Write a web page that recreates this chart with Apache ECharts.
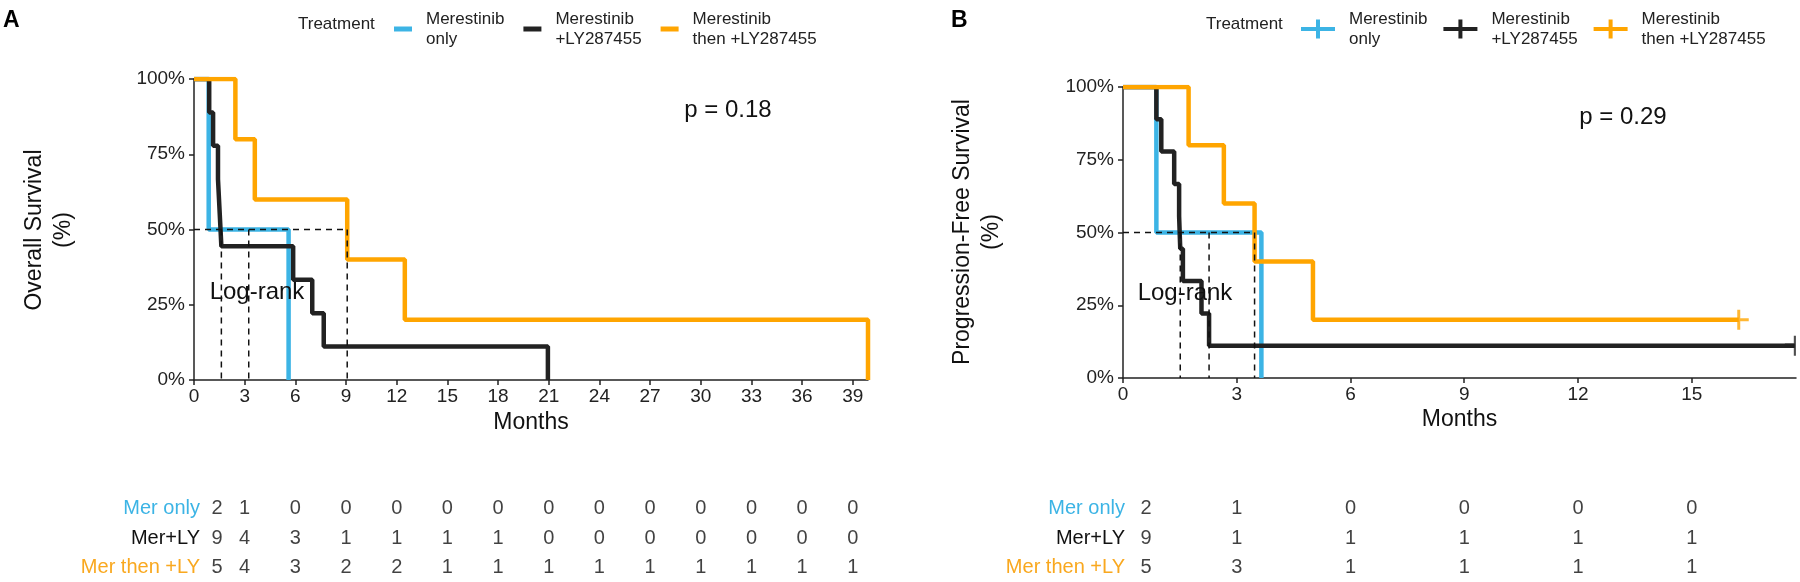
<!DOCTYPE html>
<html style="height: 100%">

<head>
    <meta charset="utf-8">
</head>

<body style="height: 100%; margin: 0">
    <div id="main" style="width: 1800px; height: 582px"></div>

    <script type="text/javascript" src="https://cdn.jsdelivr.net/npm/echarts@6/dist/echarts.min.js"></script>

    <script type="text/javascript">
        // Panel A - overall survival, [month, survival %] at each step
        var osMerOnly = [[0, 100], [0.87, 50], [5.6, 0]];
        var osMerLY = [[0, 100], [0.9, 88.9], [1.13, 77.8], [1.42, 66.7], [1.52, 55.6], [1.62, 44.4],
            [5.87, 33.3], [7.0, 22.2], [7.68, 11.1], [20.95, 0]];
        var osMerThenLY = [[0, 100], [2.45, 80], [3.6, 60], [9.07, 40], [12.48, 20], [39.9, 0]];
        var osMedians = [1.62, 3.24, 9.07];

        // Panel B - progression-free survival
        var pfsMerOnly = [[0, 100], [0.88, 50], [3.65, 0]];
        var pfsMerLY = [[0, 100], [0.88, 88.9], [1.01, 77.8], [1.35, 66.7], [1.48, 55.6], [1.51, 44.4],
            [1.58, 33.3], [2.07, 22.2], [2.27, 11.1], [17.72, 11.1]];
        var pfsMerThenLY = [[0, 100], [1.73, 80], [2.66, 60], [3.47, 40], [5.01, 20], [16.24, 20]];
        var pfsCensorMerLY = [[17.72, 11.1]];
        var pfsCensorMerThenLY = [[16.24, 20]];
        var pfsMedians = [1.51, 2.27, 3.47];

        // numbers at risk
        var riskRows = ['Mer only', 'Mer+LY', 'Mer then +LY'];
        var riskTimesA = [0, 3, 6, 9, 12, 15, 18, 21, 24, 27, 30, 33, 36, 39];
        var riskA = [
            [2, 1, 0, 0, 0, 0, 0, 0, 0, 0, 0, 0, 0, 0],
            [9, 4, 3, 1, 1, 1, 1, 0, 0, 0, 0, 0, 0, 0],
            [5, 4, 3, 2, 2, 1, 1, 1, 1, 1, 1, 1, 1, 1]
        ];
        var riskTimesB = [0, 3, 6, 9, 12, 15];
        var riskB = [
            [2, 1, 0, 0, 0, 0],
            [9, 1, 1, 1, 1, 1],
            [5, 3, 1, 1, 1, 1]
        ];

        var groupNames = ['Merestinib\nonly', 'Merestinib\n+LY287455', 'Merestinib\nthen +LY287455'];
        var colors = ['#3CB4E5', '#222222', '#FFA500'];
        var font = 'Liberation Sans, Arial, sans-serif';

        var chart = echarts.init(document.getElementById('main'));

        function curve(name, data, color, axis) {
            return {
                type: 'line', name: name, step: 'end', data: data,
                xAxisIndex: axis, yAxisIndex: axis,
                symbol: 'none', color: color, silent: true,
                lineStyle: { width: 4.5, color: color, cap: 'butt' }
            };
        }

        // '+' censor marks; the one at the right edge is cut by the panel
        function censor(data, color, axis, edge) {
            return {
                type: 'scatter', name: 'censor' + axis + color, data: data,
                xAxisIndex: axis, yAxisIndex: axis,
                symbol: edge ? 'path://M10,0L10,20M0,10L10,10' : 'path://M10,0L10,20M0,10L20,10',
                symbolSize: edge ? [10, 20] : 20,
                symbolOffset: edge ? [-5, 0] : [0, 0],
                itemStyle: { color: 'none', borderColor: color, borderWidth: 3 },
                z: 5
            };
        }

        // dashed median guides
        function medianLines(meds, axis) {
            var out = [];
            var maxMed = Math.max.apply(null, meds);
            var segs = [[[0, 50], [maxMed, 50]]];
            meds.forEach(function (m) { segs.push([[m, 50], [m, 0]]); });
            segs.forEach(function (s) {
                out.push({
                    type: 'line', data: s, xAxisIndex: axis, yAxisIndex: axis,
                    symbol: 'none', silent: true, z: 6,
                    lineStyle: { width: 1.5, color: '#111', type: [6, 5] }
                });
            });
            return out;
        }

        function riskSeries(times, rows, axis) {
            var out = [];
            rows.forEach(function (vals, r) {
                out.push({
                    type: 'scatter', name: 'risk' + axis + r,
                    xAxisIndex: axis, yAxisIndex: axis,
                    symbolSize: 1, itemStyle: { color: 'rgba(0,0,0,0)' },
                    data: times.map(function (t, i) {
                        return {
                            value: [t, riskRows[r], vals[i]],
                            label: { offset: [i === 0 ? 23 : 0, 0] }
                        };
                    }),
                    label: {
                        show: true, position: 'inside', color: '#111',
                        fontSize: 20, fontFamily: font,
                        formatter: function (p) { return p.value[2]; }
                    }
                });
            });
            return out;
        }

        function survAxisX(max, left) {
            return {
                type: 'value', gridIndex: left, min: 0, max: max, interval: 3,
                name: 'Months', nameLocation: 'middle', nameGap: 30,
                nameTextStyle: { fontSize: 23, color: '#111', fontFamily: font },
                axisLine: { lineStyle: { color: '#222', width: 1.5 } },
                axisTick: { length: 5, lineStyle: { color: '#222', width: 1.5 } },
                axisLabel: { fontSize: 19, color: '#222', margin: 7, fontFamily: font, showMaxLabel: false },
                splitLine: { show: false }
            };
        }

        function survAxisY(idx) {
            return {
                type: 'value', gridIndex: idx, min: 0, max: 100, interval: 25,
                axisLine: { show: true, lineStyle: { color: '#222', width: 1.5 } },
                axisTick: { show: true, length: 5, lineStyle: { color: '#222', width: 1.5 } },
                axisLabel: { fontSize: 19, color: '#222', margin: 9, fontFamily: font, formatter: '{value}%' },
                splitLine: { show: false }
            };
        }

        function riskAxisY(idx, margin) {
            return {
                type: 'category', gridIndex: idx, data: riskRows, inverse: true,
                axisLine: { show: false }, axisTick: { show: false },
                axisLabel: {
                    margin: margin, fontFamily: font,
                    formatter: function (v, i) { return '{r' + i + '|' + v + '}'; },
                    rich: {
                        r0: { color: colors[0], fontSize: 20, fontFamily: font },
                        r1: { color: '#111', fontSize: 20, fontFamily: font },
                        r2: { color: '#F9A81F', fontSize: 20, fontFamily: font }
                    }
                }
            };
        }

        var legendText = { fontSize: 17, lineHeight: 20, color: '#222', fontFamily: font, padding: [0, 0, 0, 9] };

        var option = {
            animation: false,
            textStyle: { fontFamily: font },
            grid: [
                { left: 194, right: 932, top: 79, bottom: 202 },
                { left: 1123, right: 4, top: 87, bottom: 204 },
                { left: 194, right: 932, top: 494, height: 89 },
                { left: 1123, right: 4, top: 494, height: 89 }
            ],
            xAxis: [
                survAxisX(39.9, 0),
                survAxisX(17.75, 1),
                { type: 'value', gridIndex: 2, min: 0, max: 39.9, show: false },
                { type: 'value', gridIndex: 3, min: 0, max: 17.75, show: false }
            ],
            yAxis: [
                survAxisY(0),
                survAxisY(1),
                riskAxisY(2, -6),
                riskAxisY(3, -2)
            ],
            legend: [
                {
                    left: 389, top: 4, data: groupNames, selectedMode: false,
                    icon: 'rect', itemWidth: 18, itemHeight: 5, itemGap: 19,
                    textStyle: legendText
                },
                {
                    left: 1296, top: 4, data: groupNames, selectedMode: false,
                    icon: 'path://M0,7.5h34v4h-34z M15,0h4v19h-4z', itemWidth: 34, itemHeight: 19, itemGap: 16,
                    textStyle: legendText
                }
            ],
            graphic: [
                { type: 'text', left: 3, top: 9, style: { text: 'A', font: 'bold 23px ' + font, fill: '#000' } },
                { type: 'text', left: 951, top: 9, style: { text: 'B', font: 'bold 23px ' + font, fill: '#000' } },
                { type: 'text', x: 298, y: 24, style: { text: 'Treatment', font: '17px ' + font, fill: '#222', verticalAlign: 'middle' } },
                { type: 'text', x: 1206, y: 24, style: { text: 'Treatment', font: '17px ' + font, fill: '#222', verticalAlign: 'middle' } },
                { type: 'text', x: 728, y: 110, style: { text: 'p = 0.18', font: '24px ' + font, fill: '#111', align: 'center', verticalAlign: 'middle' } },
                { type: 'text', x: 1623, y: 117, style: { text: 'p = 0.29', font: '24px ' + font, fill: '#111', align: 'center', verticalAlign: 'middle' } },
                { type: 'text', x: 257, y: 292, z: 10, style: { text: 'Log-rank', font: '24px ' + font, fill: '#111', align: 'center', verticalAlign: 'middle' } },
                { type: 'text', x: 1185, y: 293, z: 10, style: { text: 'Log-rank', font: '24px ' + font, fill: '#111', align: 'center', verticalAlign: 'middle' } },
                {
                    type: 'text', x: 49, y: 230, rotation: Math.PI / 2,
                    style: { text: 'Overall Survival\n(%)', font: '23px ' + font, lineHeight: 29, fill: '#111', align: 'center', verticalAlign: 'middle' }
                },
                {
                    type: 'text', x: 977, y: 232, rotation: Math.PI / 2,
                    style: { text: 'Progression-Free Survival\n(%)', font: '23px ' + font, lineHeight: 29, fill: '#111', align: 'center', verticalAlign: 'middle' }
                }
            ],
            series: [].concat(
                [
                    curve(groupNames[0], osMerOnly, colors[0], 0),
                    curve(groupNames[1], osMerLY, colors[1], 0),
                    curve(groupNames[2], osMerThenLY, colors[2], 0)
                ],
                medianLines(osMedians, 0),
                [
                    curve(groupNames[0], pfsMerOnly, colors[0], 1),
                    curve(groupNames[1], pfsMerLY, colors[1], 1),
                    curve(groupNames[2], pfsMerThenLY, colors[2], 1),
                    censor(pfsCensorMerLY, colors[1], 1, true),
                    censor(pfsCensorMerThenLY, colors[2], 1, false)
                ],
                medianLines(pfsMedians, 1),
                riskSeries(riskTimesA, riskA, 2),
                riskSeries(riskTimesB, riskB, 3)
            )
        };

        if (option && typeof option === 'object') {
            chart.setOption(option);
        }
    </script>
</body>

</html>
